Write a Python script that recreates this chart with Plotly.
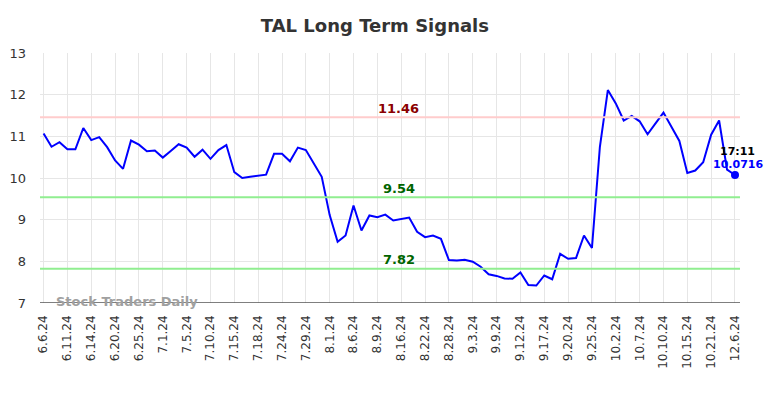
import plotly.graph_objects as go

tick_labels = ["6.6.24", "6.11.24", "6.14.24", "6.20.24", "6.25.24", "7.1.24", "7.5.24",
               "7.10.24", "7.15.24", "7.18.24", "7.24.24", "7.29.24", "8.1.24", "8.6.24",
               "8.9.24", "8.16.24", "8.22.24", "8.28.24", "9.3.24", "9.9.24", "9.12.24",
               "9.17.24", "9.20.24", "9.25.24", "10.2.24", "10.7.24", "10.10.24",
               "10.15.24", "10.21.24", "12.6.24"]

values = [11.07, 10.75, 10.86, 10.69, 10.69, 11.20, 10.91, 10.98, 10.74, 10.42,
          10.22, 10.90, 10.80, 10.64, 10.66, 10.49, 10.65, 10.81, 10.73, 10.51,
          10.68, 10.46, 10.67, 10.79, 10.14, 10.00, 10.03, 10.05, 10.08, 10.58,
          10.58, 10.40, 10.73, 10.67, 10.34, 10.03, 9.11, 8.47, 8.62, 9.34,
          8.74, 9.10, 9.06, 9.12, 8.98, 9.01, 9.05, 8.71, 8.58, 8.62,
          8.54, 8.03, 8.02, 8.04, 7.99, 7.87, 7.69, 7.65, 7.59, 7.58,
          7.73, 7.43, 7.42, 7.66, 7.57, 8.18, 8.06, 8.08, 8.62, 8.32,
          10.75, 12.11, 11.79, 11.38, 11.49, 11.36, 11.05, 11.31, 11.57, 11.23,
          10.89, 10.12, 10.18, 10.38, 11.04, 11.38, 10.20, 10.0716]

resistance = 11.46
supports = [9.54, 7.82]
last_time = "17:11"

x_idx = list(range(len(values)))
tick_vals = list(range(0, len(values), 3))

fig = go.Figure()

fig.add_hline(y=resistance, line=dict(color="#ffcccc", width=2))
for s in supports:
    fig.add_hline(y=s, line=dict(color="#90ee90", width=2))

fig.add_trace(go.Scatter(x=x_idx, y=values, mode="lines",
                         line=dict(color="#0000ff", width=2), hoverinfo="skip",
                         showlegend=False))
fig.add_trace(go.Scatter(x=[x_idx[-1]], y=[values[-1]], mode="markers",
                         marker=dict(color="#0000ff", size=8), showlegend=False))

mid = 44.7
fig.add_annotation(x=mid, y=resistance, text=f"<b>{resistance:.2f}</b>", showarrow=False,
                   yshift=9, font=dict(color="#8b0000", size=13, family="DejaVu Sans"))
for s in supports:
    fig.add_annotation(x=mid, y=s, text=f"<b>{s:.2f}</b>", showarrow=False,
                       yshift=9, font=dict(color="#006400", size=13, family="DejaVu Sans"))

fig.add_annotation(x=x_idx[-1], y=values[-1], text=f"<b>{last_time}</b>", showarrow=False,
                   xanchor="center", yshift=24, xshift=3,
                   font=dict(color="#000000", size=11, family="DejaVu Sans"))
fig.add_annotation(x=x_idx[-1], y=values[-1], text=f"<b>{values[-1]:.4f}</b>", showarrow=False,
                   xanchor="center", yshift=11, xshift=3,
                   font=dict(color="#0000ff", size=11, family="DejaVu Sans"))

fig.add_annotation(x=0.02, y=7, xref="paper", yref="y", text="<b>Stock Traders Daily</b>",
                   showarrow=False, xanchor="left", yanchor="bottom", yshift=-8,
                   font=dict(color="#a0a0a0", size=13, family="DejaVu Sans"))

fig.update_layout(
    width=784, height=398,
    margin=dict(l=32, r=52, t=45, b=103),
    paper_bgcolor="white", plot_bgcolor="white",
    title=dict(text="<b>TAL Long Term Signals</b>", x=0.468, xanchor="center", y=0.955,
               yanchor="middle", font=dict(size=18, color="#333333", family="DejaVu Sans")),
    font=dict(family="DejaVu Sans", color="#333333"),
    xaxis=dict(range=[-0.45, 87.63], tickmode="array", tickvals=tick_vals,
               ticktext=tick_labels, tickangle=-90, showgrid=True, gridcolor="#e6e6e6",
               gridwidth=1, zeroline=False, showline=False, ticks="",
               ticklabelstandoff=9, automargin=False,
               tickfont=dict(size=12, color="#333333")),
    yaxis=dict(range=[7, 13], tickvals=[7, 8, 9, 10, 11, 12, 13], showgrid=True,
               gridcolor="#e6e6e6", gridwidth=1, zeroline=False, showline=False, ticks="",
               ticklabelstandoff=13, automargin=False,
               tickfont=dict(size=13, color="#333333")),
)

fig.add_shape(type="line", xref="paper", yref="y", x0=0, x1=1, y0=7, y1=7,
              line=dict(color="#555555", width=1.5))

fig.write_html("out.html")
